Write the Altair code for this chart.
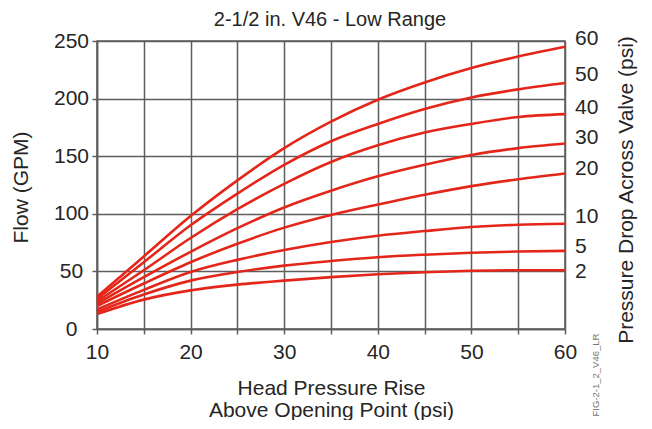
import altair as alt
import pandas as pd

# ---- data -------------------------------------------------------------
head_rise = [10, 15, 20, 25, 30, 35, 40, 45, 50, 55, 60]

drop_2 = [13, 25.5, 33.5, 38.5, 42, 45, 47.5, 49.3, 50.5, 51, 51]
drop_5 = [15, 30, 42, 49.5, 55, 59, 62.3, 64.5, 66.2, 67.3, 67.8]
drop_10 = [17, 34, 49.5, 60, 68.5, 75.5, 81, 85, 88.5, 90.5, 91.4]
drop_20 = [20, 39.5, 58, 74, 88, 99, 108, 116.5, 124, 130, 135]
drop_30 = [22, 45, 67, 87.5, 105.5, 120, 132.5, 142.5, 151, 157, 161]
drop_40 = [24, 51, 79, 104, 126, 145, 159.5, 170.5, 178, 184, 186.5]
drop_50 = [26, 58, 90, 117.5, 142.5, 163, 178, 191, 201, 208, 213.5]
drop_60 = [28, 63, 98, 129, 157, 180, 199, 214, 226.5, 236.5, 245]

drop_names = ["60", "50", "40", "30", "20", "10", "5", "2"]
label_flow = [251.5, 220.4, 192.2, 165.8, 139, 97.3, 71.3, 49.7]

x_ticks = [10, 15, 20, 25, 30, 35, 40, 45, 50, 55, 60]
y_ticks = [0, 50, 100, 150, 200, 250]

title_text = "2-1/2 in. V46 - Low Range"
x_title = ["Head Pressure Rise", "Above Opening Point (psi)"]
y_title = "Flow (GPM)"
right_title = "Pressure Drop Across Valve (psi)"
fig_id = "FIG-2-1_2_V46_LR"

# ---- tables -------------------------------------------------------------
series = [drop_60, drop_50, drop_40, drop_30, drop_20, drop_10, drop_5, drop_2]
rows = []
for name, vals in zip(drop_names, series):
    for x, y in zip(head_rise, vals):
        rows.append({"drop": name, "rise": x, "flow": y})
df = pd.DataFrame(rows)

label_df = pd.DataFrame({
    "drop": drop_names,
    "rise": [head_rise[-1]] * len(drop_names),
    "flow": label_flow,
})

FONT = "Liberation Sans"
TXT = "#262626"
GRID = "#5e5e5e"
RED = "#e4261a"

x_scale = alt.Scale(domain=[10, 60], nice=False, zero=False)
y_scale = alt.Scale(domain=[0, 250], nice=False)

x_axis = alt.Axis(
    values=x_ticks,
    labelExpr="datum.value % 10 === 0 ? datum.label : ''",
    title=x_title,
    titleFont=FONT, titleFontSize=21, titleFontWeight="normal", titleColor=TXT,
    titleLineHeight=22.5, titleY=48,
    labelFont=FONT, labelFontSize=21, labelColor=TXT, labelPadding=7,
    labelFlush=False, labelOverlap=False,
    tickSize=5, tickColor=GRID, tickWidth=1.5,
    domainColor=GRID, domainWidth=1.5,
    grid=True, gridColor=GRID, gridWidth=1.5, gridOpacity=1,
)
y_axis = alt.Axis(
    values=y_ticks,
    title=y_title,
    titleFont=FONT, titleFontSize=21, titleFontWeight="normal", titleColor=TXT,
    titleAngle=270, titleX=-76, titleY=146, titleAlign="center", titleBaseline="middle",
    labelFont=FONT, labelFontSize=21, labelColor=TXT, labelAlign="center",
    labelBaseline="middle", labelPadding=21, labelFlush=False, labelOverlap=False,
    tickSize=5, tickColor=GRID, tickWidth=1.5,
    domainColor=GRID, domainWidth=1.5,
    grid=True, gridColor=GRID, gridWidth=1.5, gridOpacity=1,
)

lines = alt.Chart(df).mark_line(
    interpolate="monotone", strokeWidth=2.6, color=RED
).encode(
    x=alt.X("rise:Q", scale=x_scale, axis=x_axis),
    y=alt.Y("flow:Q", scale=y_scale, axis=y_axis),
    detail="drop:N",
)

labels = alt.Chart(label_df).mark_text(
    align="left", baseline="middle", dx=10, font=FONT, fontSize=21, color=TXT
).encode(
    x=alt.X("rise:Q", scale=x_scale),
    y=alt.Y("flow:Q", scale=y_scale),
    text="drop:N",
)

title = alt.Chart(pd.DataFrame({"t": [title_text]})).mark_text(
    align="center", baseline="middle", font=FONT, fontSize=20, color=TXT
).encode(x=alt.value(233), y=alt.value(-21), text="t:N")

rtitle = alt.Chart(pd.DataFrame({"t": [right_title]})).mark_text(
    align="center", baseline="middle", angle=270, font=FONT, fontSize=21, color=TXT
).encode(x=alt.value(530), y=alt.value(149), text="t:N")

fig = alt.Chart(pd.DataFrame({"t": [fig_id]})).mark_text(
    align="center", baseline="middle", angle=270, font=FONT, fontSize=9.5, color="#777777"
).encode(x=alt.value(499), y=alt.value(334), text="t:N")

chart = alt.layer(lines, labels, title, rtitle, fig).properties(
    width=468, height=288,
    autosize=alt.AutoSizeParams(type="none"),
    padding={"left": 89, "top": 33, "right": 79, "bottom": 91},
).configure_view(stroke=GRID, strokeWidth=1.5)

chart.save("out.html", embed_options={"renderer": "svg", "actions": False})
